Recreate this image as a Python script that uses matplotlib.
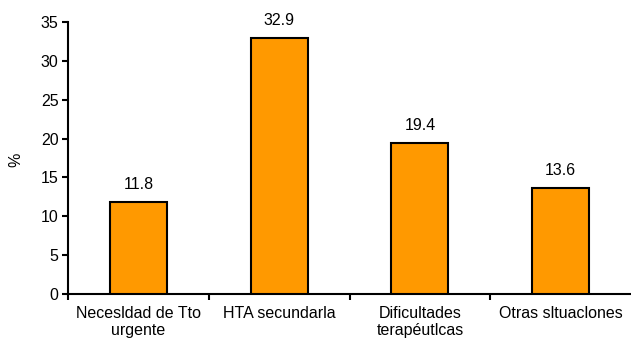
import numpy as np
import matplotlib
matplotlib.use('Agg')
import matplotlib.pyplot as plt

plt.rcParams['font.family'] = ['Liberation Sans', 'DejaVu Sans']

categorias = ['Necesldad de Tto\nurgente', 'HTA secundarla',
              'Dificultades\nterapéutlcas', 'Otras sltuaclones']
valores = [11.8, 32.9, 19.4, 13.6]

fs = 11.5
fig = plt.figure(figsize=(6.31, 3.39), dpi=100)
ax = fig.add_axes([0.108, 0.133, 0.892, 0.802])

x = np.arange(len(categorias))
ax.bar(x, valores, width=0.405, color='#FF9900', edgecolor='k', linewidth=1.5, zorder=3)
for xi, v in zip(x, valores):
    ax.text(xi, v + 1.3, '%.1f' % v, ha='center', va='bottom', fontsize=fs)

ax.set_xlim(-0.5, 3.5)
ax.set_ylim(0, 35)
ax.set_yticks(np.arange(0, 36, 5))
ax.set_xticks(x)
ax.set_xticklabels(categorias, fontsize=fs, linespacing=1.15)
ax.set_xticks(np.arange(-0.5, 3.0, 1.0), minor=True)
ax.tick_params(axis='x', which='major', length=0, pad=9)
ax.tick_params(axis='x', which='minor', length=4, width=1.5, direction='out')
ax.tick_params(axis='y', length=4, width=1.5, labelsize=fs, pad=3)
fig.text(16 / 631, 1 - 160 / 339, '%', rotation=90, ha='center', va='center', fontsize=fs)

for s in ['top', 'right']:
    ax.spines[s].set_visible(False)
for s in ['left', 'bottom']:
    ax.spines[s].set_linewidth(1.5)

plt.savefig('out.png', dpi=100)
